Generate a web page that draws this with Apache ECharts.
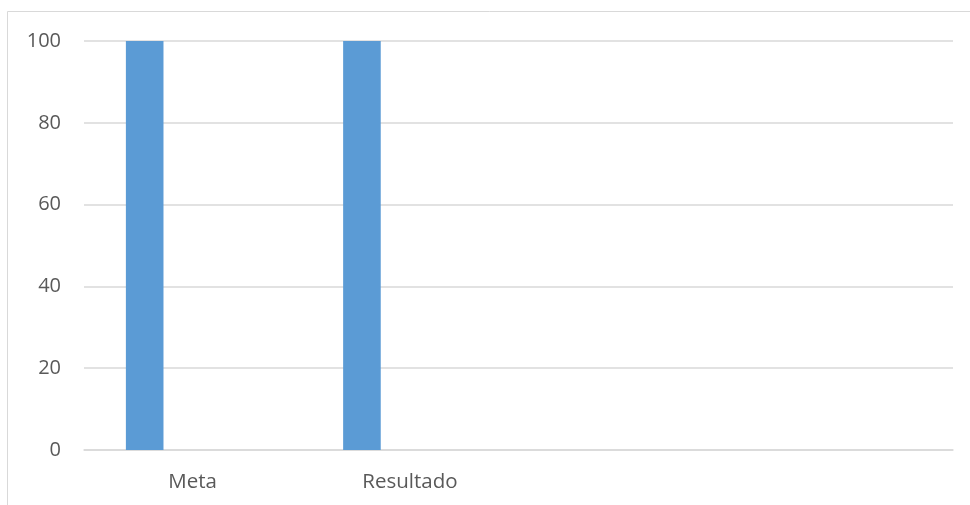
<!DOCTYPE html>
<html>
<head>
<meta charset="utf-8">
<script src="https://cdn.jsdelivr.net/npm/echarts@6/dist/echarts.min.js"></script>
<style>
  html, body { margin: 0; padding: 0; background: #ffffff; }
  #chart { width: 970px; height: 505px; }
</style>
</head>
<body>
<div id="chart"></div>
<script>
// Categories along the x axis (the last two slots are left empty)
const categories = ['Meta', 'Resultado', '', ''];
// First series: the plotted values
const seriesValues = [100, 100, null, null];
// Second series: no values, it only reserves its slot in each group
const emptySeriesValues = [null, null, null, null];
// Value axis ticks
const yTicks = [0, 20, 40, 60, 80, 100];

const chart = echarts.init(document.getElementById('chart'), null, { renderer: 'canvas' });

const gridColor = '#d9d9d9';
const textColor = '#595959';
const fontFamily = '"Open Sans", "Noto Sans", sans-serif';

chart.setOption({
  animation: false,
  backgroundColor: '#ffffff',
  graphic: [{
    type: 'rect',
    shape: { x: 7.5, y: 11.5, width: 1000, height: 600 },
    style: { fill: 'none', stroke: gridColor, lineWidth: 1 },
    silent: true,
    z: -1
  }],
  grid: { left: 84, right: 17, top: 41, bottom: 55, containLabel: false },
  xAxis: {
    type: 'category',
    data: categories,
    boundaryGap: true,
    axisLine: { show: true, lineStyle: { color: gridColor, width: 1.5 } },
    axisTick: { show: false },
    axisLabel: { color: textColor, fontSize: 20.5, fontFamily: fontFamily, margin: 22 },
    splitLine: { show: false }
  },
  yAxis: {
    type: 'value',
    min: yTicks[0],
    max: yTicks[yTicks.length - 1],
    interval: yTicks[1] - yTicks[0],
    axisLine: { show: false },
    axisTick: { show: false },
    axisLabel: { color: textColor, fontSize: 20, fontFamily: fontFamily, margin: 23, padding: [2, 0, 0, 0] },
    splitLine: { show: true, lineStyle: { color: gridColor, width: 1.5 } }
  },
  series: [
    {
      type: 'bar',
      data: seriesValues,
      barWidth: 37.6,
      barGap: '155%',
      itemStyle: { color: '#5b9bd5' }
    },
    {
      type: 'bar',
      data: emptySeriesValues,
      barWidth: 37.6,
      itemStyle: { color: '#ed7d31' }
    }
  ]
});
</script>
</body>
</html>
